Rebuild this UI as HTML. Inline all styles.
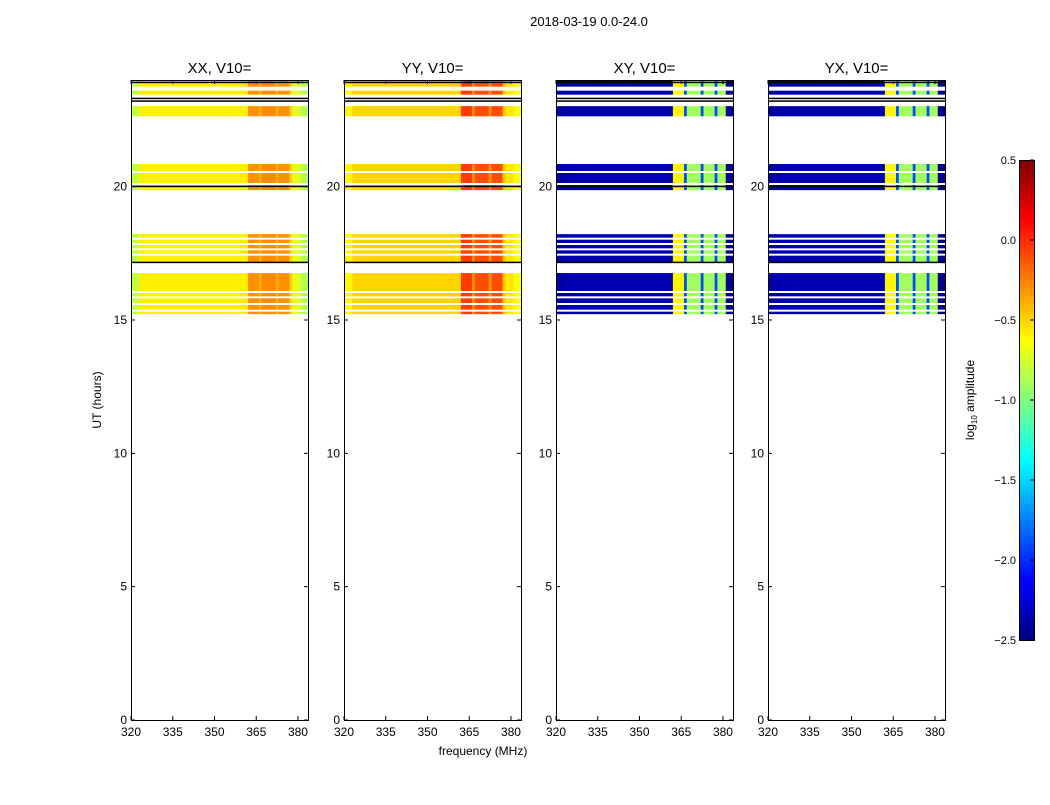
<!DOCTYPE html>
<html><head><meta charset="utf-8"><style>
body{margin:0;background:#fff;font-family:"Liberation Sans",sans-serif;}
svg text{font-family:"Liberation Sans",sans-serif;}
</style></head><body>
<svg id="fig" width="1050" height="800" xmlns="http://www.w3.org/2000/svg">
<rect width="1050" height="800" fill="#fff"/>
<text x="589" y="26" font-size="13" text-anchor="middle">2018-03-19 0.0-24.0</text>
<text x="483" y="755" font-size="12" text-anchor="middle">frequency (MHz)</text>
<text transform="translate(101,400) rotate(-90)" font-size="12" text-anchor="middle">UT (hours)</text>
<g id="panels"></g>
<g id="cbar"></g>
</svg>
<script>
const panelTitles=["XX, V10=","YY, V10=","XY, V10=","YX, V10="];
const xTicks=[320,335,350,365,380];
const yTicks=[0,5,10,15,20];
const cbarTicks=[0.5,0.0,-0.5,-1.0,-1.5,-2.0,-2.5];
const bandStart=[23.75,23.45,22.57,19.87,17.17,15.22];
const bandEnd=[24.0,23.6,23.02,20.85,18.22,16.76];
const gaps=[22.6,20.55,20.1,18.05,17.85,17.65,17.45,16.05,15.85,15.6,15.35];
const blackLines=[23.9,23.3,23.2,20.0,17.15];
const fEdges=[320,323,362,366,367,372,373,377,378,381,383.6];
const valXX=[-0.8,-0.58,-0.3,-0.4,-0.28,-0.4,-0.3,-0.5,-0.7,-0.85];
const valYY=[-0.6,-0.5,-0.05,-0.3,-0.1,-0.3,-0.1,-0.45,-0.55,-0.65];
const valXY=[-2.4,-2.35,-0.6,-1.9,-0.9,-1.9,-0.9,-1.9,-0.9,-2.45];
const valYX=[-2.4,-2.35,-0.6,-1.9,-0.9,-1.9,-0.9,-1.9,-0.9,-2.45];
const panelVals=[valXX,valYY,valXY,valYX];
const panelX=[131,344,556,768];
const PW=177,PT=80,PB=720,FMIN=320,FMAX=383.6,TMAX=24;
const NS="http://www.w3.org/2000/svg";
function xs(f,p){return panelX[p]+(f-FMIN)/(FMAX-FMIN)*PW;}
function ys(t){return PB-t/TMAX*(PB-PT);}
function jet(v){let t=(v+2.5)/3;t=Math.max(0,Math.min(1,t));
 const r=Math.max(0,Math.min(1,1.5-Math.abs(4*t-3))),g=Math.max(0,Math.min(1,1.5-Math.abs(4*t-2))),b=Math.max(0,Math.min(1,1.5-Math.abs(4*t-1)));
 return `rgb(${Math.round(r*255)},${Math.round(g*255)},${Math.round(b*255)})`;}
function mk(tag,attrs,parent){const e=document.createElementNS(NS,tag);for(const k in attrs)e.setAttribute(k,attrs[k]);parent.appendChild(e);return e;}
const G=document.getElementById('panels');
panelTitles.forEach((title,p)=>{
 const g=mk('g',{},G);
 
 
 const vals=panelVals[p];
 for(let b=0;b<bandStart.length;b++){
  for(let s=0;s<vals.length;s++){
   const x0=xs(fEdges[s],p),x1=xs(fEdges[s+1],p);
   const r=mk('rect',{x:x0,y:ys(bandEnd[b]),width:x1-x0+0.3,height:ys(bandStart[b])-ys(bandEnd[b]),fill:jet(vals[s])},g);
   
   
  }
 }
 gaps.forEach(h=>{mk('rect',{x:panelX[p],y:ys(h)-1,width:PW,height:2,fill:'#fff'},g);});
 blackLines.forEach(h=>{mk('rect',{x:panelX[p],y:ys(h)-1,width:PW,height:1.5,fill:'#000'},g);});
 const fr=mk('rect',{x:panelX[p]+0.5,y:PT+0.5,width:PW,height:PB-PT,fill:'none',stroke:'#000','stroke-width':1},g);
 
 
 const tt=mk('text',{x:panelX[p]+PW/2,y:73,'font-size':15,'text-anchor':'middle'},g);tt.textContent=title;
 
 
 xTicks.forEach(f=>{const x=xs(f,p);
  mk('line',{x1:x,x2:x,y1:PB,y2:PB-4,stroke:'#000'},g);mk('line',{x1:x,x2:x,y1:PT,y2:PT+4,stroke:'#000'},g);
  const t=mk('text',{x:x,y:PB+16,'font-size':12,'text-anchor':'middle'},g);t.textContent=f;
  
  });
 yTicks.forEach(h=>{const y=ys(h);
  mk('line',{x1:panelX[p],x2:panelX[p]+4,y1:y,y2:y,stroke:'#000'},g);mk('line',{x1:panelX[p]+PW,x2:panelX[p]+PW-4,y1:y,y2:y,stroke:'#000'},g);
  const t=mk('text',{x:panelX[p]-4,y:y+4,'font-size':12,'text-anchor':'end'},g);t.textContent=h;
  
  });
});
const C=document.getElementById('cbar');
const CX=1019,CW=15,CT=160,CB=640,VMIN=-2.5,VMAX=0.5;
function cy(v){return CB-(v-VMIN)/(VMAX-VMIN)*(CB-CT);}
for(let i=0;i<120;i++){const v0=VMIN+i*(VMAX-VMIN)/120,v1=VMIN+(i+1)*(VMAX-VMIN)/120;
 mk('rect',{x:CX,y:cy(v1),width:CW,height:cy(v0)-cy(v1)+0.5,fill:jet((v0+v1)/2)},C);}
const cf=mk('rect',{x:CX+0.5,y:CT+0.5,width:CW,height:CB-CT,fill:'none',stroke:'#000'},C);


cbarTicks.forEach(v=>{const y=cy(v);
 mk('line',{x1:CX+CW-4,x2:CX+CW,y1:y,y2:y,stroke:'#000'},C);
 const t=mk('text',{x:CX-3,y:y+4,'font-size':11,'text-anchor':'end'},C);t.textContent=(v<0?'\u2212'+Math.abs(v).toFixed(1):v.toFixed(1));
 
 });
const cl=mk('text',{transform:'translate(974,400) rotate(-90)','font-size':12,'text-anchor':'middle'},C);
cl.innerHTML='log<tspan font-size="8" dy="3">10</tspan><tspan dy="-3"> amplitude</tspan>';


</script>
</body></html>
